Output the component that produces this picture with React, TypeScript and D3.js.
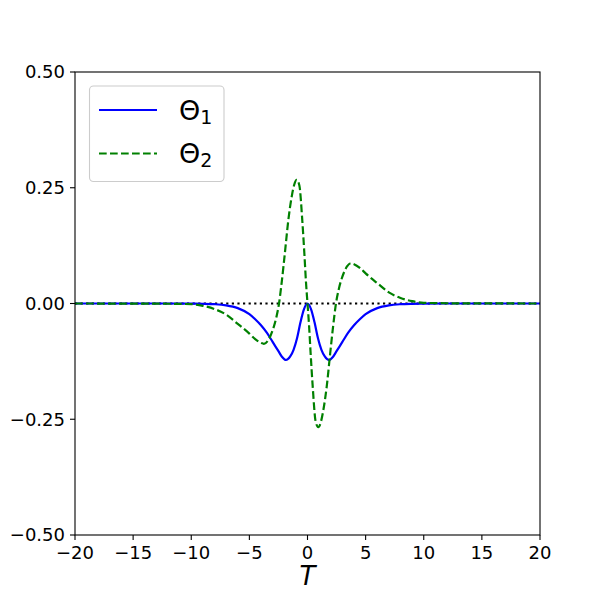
import React from "react";
import * as d3 from "d3";

const tBlue = [-20, -12, -10, -9, -8, -7, -6, -5, -4.5, -4, -3.5, -3, -2.5, -2.2, -1.85, -1.5, -1.2, -0.9, -0.6, -0.3, 0, 0.3, 0.6, 0.9, 1.2, 1.5, 1.85, 2.2, 2.5, 3, 3.5, 4, 4.5, 5, 6, 7, 8, 9, 10, 12, 20];
const theta1 = [0, 0, -0.0003, -0.0006, -0.0015, -0.004, -0.01, -0.023, -0.034, -0.047, -0.063, -0.083, -0.103, -0.115, -0.122, -0.115, -0.1, -0.075, -0.04, -0.012, 0, -0.012, -0.04, -0.075, -0.1, -0.115, -0.122, -0.115, -0.103, -0.083, -0.063, -0.047, -0.034, -0.023, -0.01, -0.004, -0.0015, -0.0006, -0.0003, 0, 0];

const tGreen = [-20, -12, -10, -9, -8, -7, -6, -5, -4.5, -4, -3.75, -3.4, -3, -2.7, -2.45, -2.2, -1.95, -1.65, -1.35, -1.15, -0.93, -0.7, -0.45, -0.27, -0.13, 0, 0.13, 0.27, 0.45, 0.7, 0.93, 1.15, 1.35, 1.65, 1.95, 2.2, 2.45, 2.7, 3, 3.4, 3.75, 4, 4.5, 5, 6, 7, 8, 9, 10, 12, 20];
const theta2 = [0, -0.0005, -0.0015, -0.005, -0.012, -0.024, -0.044, -0.065, -0.077, -0.085, -0.087, -0.08, -0.058, -0.032, 0, 0.05, 0.108, 0.18, 0.232, 0.256, 0.267, 0.255, 0.18, 0.108, 0.046, 0, -0.046, -0.108, -0.18, -0.255, -0.267, -0.256, -0.232, -0.18, -0.108, -0.05, 0, 0.032, 0.058, 0.08, 0.087, 0.085, 0.077, 0.065, 0.044, 0.024, 0.012, 0.005, 0.0015, 0.0005, 0];

const xTicks = [-20, -15, -10, -5, 0, 5, 10, 15, 20];
const yTicks = [-0.5, -0.25, 0, 0.25, 0.5];

const fmtX = (v: number) => (v < 0 ? "\u2212" + Math.abs(v) : String(v));
const fmtY = (v: number) => (v < 0 ? "\u2212" + Math.abs(v).toFixed(2) : v.toFixed(2));

export default function App() {
  const left = 75, right = 540, top = 72, bottom = 535;
  const x = d3.scaleLinear().domain([-20, 20]).range([left, right]);
  const y = d3.scaleLinear().domain([-0.5, 0.5]).range([bottom, top]);
  const line = d3
    .line<[number, number]>()
    .x((d) => x(d[0]))
    .y((d) => y(d[1]))
    .curve(d3.curveMonotoneX);
  const p1 = line(tBlue.map((t, i) => [t, theta1[i]] as [number, number])) || "";
  const p2 = line(tGreen.map((t, i) => [t, theta2[i]] as [number, number])) || "";
  const font = "DejaVu Sans, sans-serif";

  return (
    <svg width={600} height={600} style={{ position: "absolute", left: 0, top: 0, background: "#fff" }} fontFamily={font}>
      <rect x={0} y={0} width={600} height={600} fill="#fff" />
      <defs>
        <clipPath id="plot">
          <rect x={left} y={top} width={right - left} height={bottom - top} />
        </clipPath>
      </defs>
      <g clipPath="url(#plot)">
        <line x1={left} x2={right} y1={y(0)} y2={y(0)} stroke="#000" strokeWidth={2.2} strokeDasharray="2.2,3.4" />
        <path d={p1} fill="none" stroke="#0000ff" strokeWidth={2.2} />
        <path d={p2} fill="none" stroke="#008000" strokeWidth={2.2} strokeDasharray="7.7,3.3" />
      </g>
      <rect x={left} y={top} width={right - left} height={bottom - top} fill="none" stroke="#000" strokeWidth={1.1} />
      {xTicks.map((t) => (
        <g key={"x" + t}>
          <line x1={x(t)} x2={x(t)} y1={bottom} y2={bottom + 5} stroke="#000" strokeWidth={1.1} />
          <text x={x(t)} y={bottom + 24} fontSize={18} textAnchor="middle" fill="#000">
            {fmtX(t)}
          </text>
        </g>
      ))}
      {yTicks.map((t) => (
        <g key={"y" + t}>
          <line x1={left - 5} x2={left} y1={y(t)} y2={y(t)} stroke="#000" strokeWidth={1.1} />
          <text x={left - 10} y={y(t)} dy="0.36em" fontSize={18} textAnchor="end" fill="#000">
            {fmtY(t)}
          </text>
        </g>
      ))}
      <text x={(left + right) / 2} y={585} fontSize={26} fontStyle="italic" textAnchor="middle" fill="#000">
        T
      </text>
      <g>
        <rect x={89.5} y={86} width={134.5} height={95.5} rx={4} ry={4} fill="#fff" fillOpacity={0.8} stroke="#cccccc" strokeWidth={1.1} />
        <line x1={99} x2={157} y1={110} y2={110} stroke="#0000ff" strokeWidth={2.2} />
        <text x={179} y={120} fontSize={27} fill="#000">
          Θ<tspan fontSize={19} dy={3.5}>1</tspan>
        </text>
        <line x1={99} x2={157} y1={153.5} y2={153.5} stroke="#008000" strokeWidth={2.2} strokeDasharray="7.7,3.3" />
        <text x={179} y={163} fontSize={27} fill="#000">
          Θ<tspan fontSize={19} dy={3.5}>2</tspan>
        </text>
      </g>
    </svg>
  );
}
